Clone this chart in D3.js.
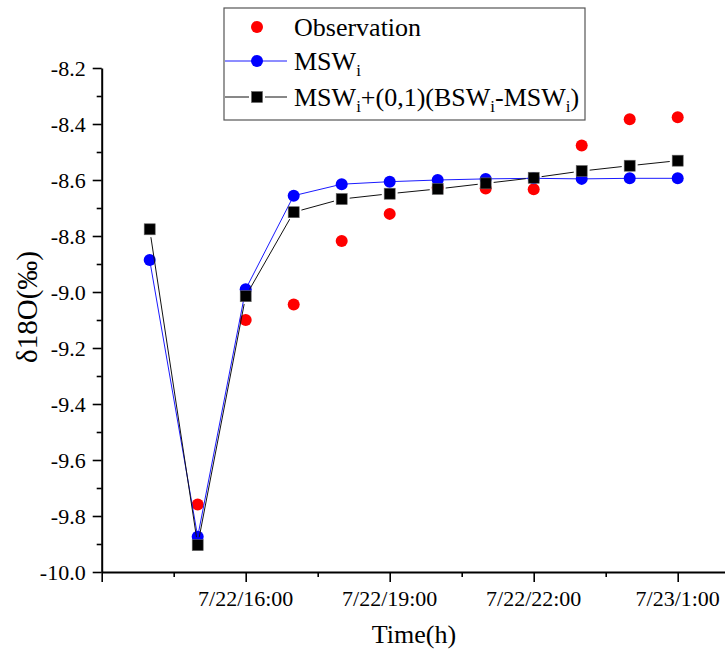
<!DOCTYPE html>
<html>
<head>
<meta charset="utf-8">
<script src="https://cdn.jsdelivr.net/npm/d3@7/dist/d3.min.js"></script>
<style>
  html, body { margin: 0; padding: 0; background: #fff; }
  svg { display: block; }
  text.lbl { font-family: "Liberation Serif", "Times New Roman", serif; fill: #000; }
</style>
</head>
<body>
<div id="chart"></div>
<script>
// ---- data (hours on 7/22; 24 = 7/23 0:00) ----
const modelTimes = [14, 15, 16, 17, 18, 19, 20, 21, 22, 23, 24, 25];
const mswValues  = [-8.886, -9.874, -8.990, -8.656, -8.615, -8.606, -8.600, -8.596, -8.594, -8.596, -8.594, -8.594];
const mixValues  = [-8.776, -9.904, -9.015, -8.715, -8.668, -8.649, -8.632, -8.612, -8.592, -8.568, -8.549, -8.531];
const obsTimes   = [15, 16, 17, 18, 19, 20, 21, 22, 23, 24, 25];
const obsValues  = [-9.759, -9.100, -9.045, -8.818, -8.721, -8.628, -8.630, -8.633, -8.477, -8.383, -8.376];

const xTickValues = [13, 16, 19, 22, 25];
const xTickLabels = ["", "7/22/16:00", "7/22/19:00", "7/22/22:00", "7/23/1:00"];
const xMinorTicks = [14.5, 17.5, 20.5, 23.5];
const yTickValues = [-10.0, -9.8, -9.6, -9.4, -9.2, -9.0, -8.8, -8.6, -8.4, -8.2];
const yMinorTicks = [-9.9, -9.7, -9.5, -9.3, -9.1, -8.9, -8.7, -8.5, -8.3];

const legendLabels = ["Observation", "MSW", "MSW"];

// ---- layout ----
const W = 725, H = 651;
const x0 = 101.7, pxPerHour = 48;
const x = d3.scaleLinear().domain([13, 26]).range([x0, x0 + 13 * pxPerHour]);
const y = d3.scaleLinear().domain([-10.0, -8.2]).range([572, 68]);

const svg = d3.select("#chart").append("svg").attr("width", W).attr("height", H);

function txt(g, s, size) {
  return g.append("text").attr("class", "lbl").attr("font-size", size).text(s);
}

// ---- axes (lines/ticks via d3.axis, labels drawn as own text) ----
const gy = svg.append("g").attr("transform", `translate(${x0},0)`);
gy.call(d3.axisLeft(y).tickValues(yTickValues).tickFormat("").tickSize(9).tickSizeOuter(0));
const gyMinor = svg.append("g").attr("transform", `translate(${x0},0)`);
gyMinor.call(d3.axisLeft(y).tickValues(yMinorTicks).tickFormat("").tickSize(5).tickSizeOuter(0));
gyMinor.select(".domain").remove();

const gx = svg.append("g").attr("transform", `translate(0,${y(-10)})`);
gx.call(d3.axisBottom(x).tickValues(xTickValues).tickFormat("").tickSize(10).tickSizeOuter(0));
const gxMinor = svg.append("g").attr("transform", `translate(0,${y(-10)})`);
gxMinor.call(d3.axisBottom(x).tickValues(xMinorTicks).tickFormat("").tickSize(5).tickSizeOuter(0));
gxMinor.select(".domain").remove();

svg.selectAll(".domain").attr("stroke", "#000").attr("stroke-width", 2);
svg.selectAll(".tick line").attr("stroke", "#000").attr("stroke-width", 1.6);

const yl = svg.append("g");
yTickValues.forEach(v => {
  txt(yl, v.toFixed(1), 22).attr("x", x0 - 16).attr("y", y(v) + 7.5).attr("text-anchor", "end");
});
const xl = svg.append("g");
xTickValues.forEach((v, i) => {
  if (xTickLabels[i]) txt(xl, xTickLabels[i], 22).attr("x", x(v)).attr("y", 606).attr("text-anchor", "middle");
});

// axis titles
txt(svg, "Time(h)", 26).attr("x", 414).attr("y", 643).attr("text-anchor", "middle");
txt(svg, "\u03B418O(\u2030)", 29).attr("transform", "translate(37,307) rotate(-90)").attr("text-anchor", "middle");

// ---- marks ----
const plot = svg.append("g");
plot.selectAll("circle.obs").data(obsTimes.map((t, i) => [t, obsValues[i]])).enter()
  .append("circle").attr("class", "obs")
  .attr("cx", d => x(d[0])).attr("cy", d => y(d[1])).attr("r", 6).attr("fill", "#ff0000");

const msw = modelTimes.map((t, i) => [t, mswValues[i]]);
plot.append("path").datum(msw)
  .attr("d", d3.line().x(d => x(d[0])).y(d => y(d[1])))
  .attr("fill", "none").attr("stroke", "#1a1aff").attr("stroke-width", 1);
plot.selectAll("circle.msw").data(msw).enter()
  .append("circle").attr("class", "msw")
  .attr("cx", d => x(d[0])).attr("cy", d => y(d[1])).attr("r", 6).attr("fill", "#0000ff");

const mix = modelTimes.map((t, i) => [t, mixValues[i]]);
const gap = 8;
const segs = d3.pairs(mix).map(([a, b]) => {
  const ax = x(a[0]), ay = y(a[1]), bx = x(b[0]), by = y(b[1]);
  const len = Math.hypot(bx - ax, by - ay), ux = (bx - ax) / len, uy = (by - ay) / len;
  return [ax + ux * gap, ay + uy * gap, bx - ux * gap, by - uy * gap];
});
plot.selectAll("line.mix").data(segs).enter().append("line").attr("class", "mix")
  .attr("x1", d => d[0]).attr("y1", d => d[1]).attr("x2", d => d[2]).attr("y2", d => d[3])
  .attr("stroke", "#111").attr("stroke-width", 1);
const sq = 11;
plot.selectAll("rect.mix").data(mix).enter()
  .append("rect").attr("class", "mix")
  .attr("x", d => x(d[0]) - sq / 2).attr("y", d => y(d[1]) - sq / 2)
  .attr("width", sq).attr("height", sq).attr("fill", "#000").attr("stroke", "#666").attr("stroke-width", 0.6);

// ---- legend ----
const lg = svg.append("g");
lg.append("rect").attr("x", 224).attr("y", 8).attr("width", 361).attr("height", 112)
  .attr("fill", "#fff").attr("stroke", "#555").attr("stroke-width", 1.2);
const lx = 257, tx = 294;
const rows = [27, 61, 97];
lg.append("circle").attr("cx", lx).attr("cy", rows[0]).attr("r", 6).attr("fill", "#ff0000");
txt(lg, legendLabels[0], 26).attr("x", tx).attr("y", rows[0] + 9);

lg.append("line").attr("x1", 225).attr("x2", 287).attr("y1", rows[1]).attr("y2", rows[1])
  .attr("stroke", "#1a1aff").attr("stroke-width", 1);
lg.append("circle").attr("cx", lx).attr("cy", rows[1]).attr("r", 6).attr("fill", "#0000ff");
const t2 = txt(lg, "", 26).attr("x", tx).attr("y", rows[1] + 9);
t2.append("tspan").text(legendLabels[1]);
t2.append("tspan").attr("font-size", 17).attr("dy", 6).text("i");

lg.append("line").attr("x1", 225).attr("x2", 249).attr("y1", rows[2]).attr("y2", rows[2]).attr("stroke", "#111");
lg.append("line").attr("x1", 265).attr("x2", 287).attr("y1", rows[2]).attr("y2", rows[2]).attr("stroke", "#111");
lg.append("rect").attr("x", lx - sq / 2).attr("y", rows[2] - sq / 2).attr("width", sq).attr("height", sq)
  .attr("fill", "#000").attr("stroke", "#666").attr("stroke-width", 0.6);
const t3 = txt(lg, "", 26).attr("x", tx).attr("y", rows[2] + 9);
const parts = [[legendLabels[2], 0], ["i", 1], ["+(0,1)(BSW", 0], ["i", 1], ["-MSW", 0], ["i", 1], [")", 0]];
let sub = false;
parts.forEach(([s, isSub]) => {
  const sp = t3.append("tspan").text(s);
  if (isSub) { sp.attr("font-size", 17).attr("dy", 6); sub = true; }
  else if (sub) { sp.attr("dy", -6); sub = false; }
});
</script>
</body>
</html>
